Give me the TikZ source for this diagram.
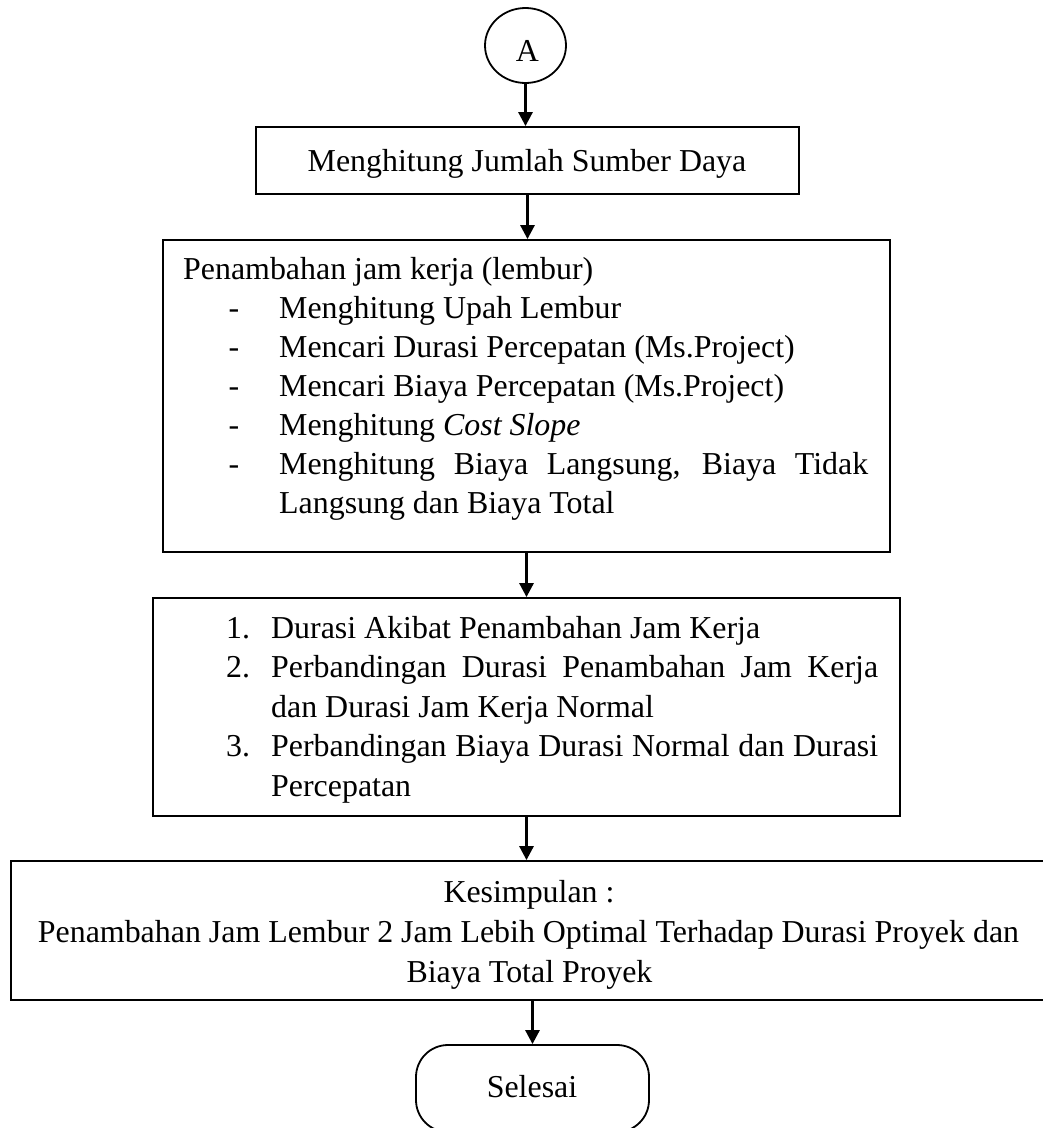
\documentclass[tikz,border=0pt]{standalone}
\usepackage{fontspec}
\setmainfont{Liberation Serif}
\usetikzlibrary{arrows.meta,shapes.geometric}
\tikzset{
  box/.style={draw, line width=1.8pt, rectangle, inner sep=0pt},
  term/.style={draw, line width=1.8pt, rectangle, rounded corners=32pt, inner sep=0pt},
  conn/.style={draw, ellipse, line width=1.8pt, inner sep=0pt},
  arr/.style={line width=2.8pt, -{Triangle[length=14pt,width=14pt]}},
  txt/.style={inner sep=0pt, anchor=base west},
  ctxt/.style={inner sep=0pt, anchor=base},
}
\begin{document}
\begin{tikzpicture}[x=1pt, y=-1pt, font=\fontsize{31.9pt}{39pt}\selectfont]
\useasboundingbox (0,0) rectangle (1043,1128);
\clip (0,0) rectangle (1043,1128);

% shapes
\node[conn, minimum width=81pt, minimum height=75pt] (A) at (525.5,45.5) {};
\node[box, minimum width=543pt, minimum height=67pt] (b1) at (527.5,160.5) {};
\node[box, minimum width=727pt, minimum height=312pt] (b2) at (526.5,396) {};
\node[box, minimum width=747pt, minimum height=218pt] (b3) at (526.5,707) {};
\node[box, minimum width=1036pt, minimum height=139pt] (b4) at (529,930.5) {};
\node[term, minimum width=233pt, minimum height=87pt] (end) at (532.5,1088.5) {};

% connectors
\draw[arr] (A.south) -- (A.south |- b1.north);
\draw[arr] (b1.south) -- (b1.south |- b2.north);
\draw[arr] (b2.south) -- (b2.south |- b3.north);
\draw[arr] (b3.south) -- (b3.south |- b4.north);
\draw[arr] (end.north |- b4.south) -- (end.north);

% texts
\node[ctxt] (tA) at (527.5,61) {A};
\node[ctxt] (t1) at (527,171) {Menghitung Jumlah Sumber Daya};

\node[txt] (t2h) at (183,279) {Penambahan jam kerja (lembur)};
\node[ctxt] (d1) at (234,318) {-};
\node[txt]  (i1) at (279,318) {Menghitung Upah Lembur};
\node[ctxt] (d2) at (234,357) {-};
\node[txt]  (i2) at (279,357) {Mencari Durasi Percepatan (Ms.Project)};
\node[ctxt] (d3) at (234,396) {-};
\node[txt]  (i3) at (279,396) {Mencari Biaya Percepatan (Ms.Project)};
\node[ctxt] (d4) at (234,435) {-};
\node[txt]  (i4) at (279,435) {Menghitung \textit{Cost Slope}};
\node[ctxt] (d5) at (234,474) {-};
\node[txt]  (i5) at (279,474) {\makebox[589pt][s]{Menghitung Biaya Langsung, Biaya Tidak}};
\node[txt]  (i5b) at (279,513) {Langsung dan Biaya Total};

\node[txt] (n1) at (226,638) {1.};
\node[txt] (j1) at (271,638) {Durasi Akibat Penambahan Jam Kerja};
\node[txt] (n2) at (226,677.5) {2.};
\node[txt] (j2) at (271,677.5) {\makebox[607pt][s]{Perbandingan Durasi Penambahan Jam Kerja}};
\node[txt] (j2b) at (271,717) {dan Durasi Jam Kerja Normal};
\node[txt] (n3) at (226,756.5) {3.};
\node[txt] (j3) at (271,756.5) {\makebox[607pt][s]{Perbandingan Biaya Durasi Normal dan Durasi}};
\node[txt] (j3b) at (271,796) {Percepatan};

\node[ctxt] (k1) at (529,902) {Kesimpulan :};
\node[ctxt] (k2) at (528.5,942) {Penambahan Jam Lembur 2 Jam Lebih Optimal Terhadap Durasi Proyek dan};
\node[ctxt] (k3) at (529.5,982) {Biaya Total Proyek};

\node[ctxt] (te) at (532,1097) {Selesai};
\end{tikzpicture}
\end{document}
